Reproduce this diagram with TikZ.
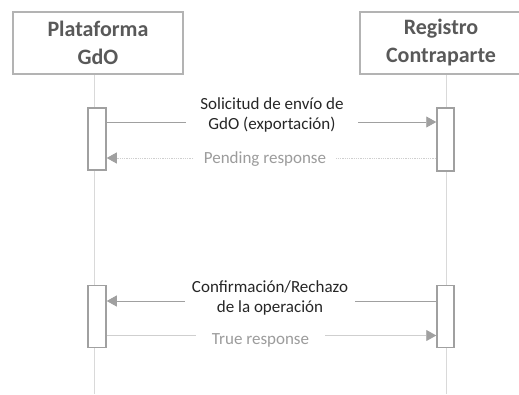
\documentclass[tikz,border=0pt]{standalone}
\usepackage{fontspec}
\setmainfont{Carlito}
\usetikzlibrary{arrows.meta}
\definecolor{headgray}{HTML}{595959}
\definecolor{boxgray}{HTML}{A0A0A0}
\definecolor{lifegray}{HTML}{D9D9D9}
\definecolor{callgray}{HTML}{A0A0A0}
\definecolor{replygray}{HTML}{9C9C9C}
\definecolor{replyline}{HTML}{CFCFCF}

\begin{document}
\begin{tikzpicture}[x=1pt, y=-1pt,
    every node/.style={font=\fontsize{17}{19.5}\selectfont},
    actor/.style={draw=boxgray!80, line width=1.5pt, minimum height=62pt, align=center,
        text=headgray, font=\fontsize{22}{28}\selectfont\bfseries},
    actbox/.style={draw=boxgray, line width=1.5pt, fill=white, minimum width=18pt,
        minimum height=62pt, inner sep=0pt},
    lifeline/.style={draw=lifegray, line width=0.9pt},
    call/.style={draw=callgray, line width=0.9pt, -{Triangle[length=10pt, width=11pt]}},
    reply/.style={draw=replyline, line width=0.9pt,
        -{Triangle[length=10pt, width=11pt, color=callgray]}},
    msg/.style={fill=white, align=center, text=black!85, inner ysep=1pt},
    answer/.style={fill=white, text=replygray, inner ysep=1pt}]
    \useasboundingbox (0,0) rectangle (519,394);

    % participants
    \node[actor, minimum width=170pt] (plat) at (98,43) {Plataforma\\GdO};
    \node[actor, minimum width=162pt] (reg) at (441,43) {Registro\\Contraparte};

    % lifelines
    \coordinate (platend) at (94,394);
    \coordinate (regend) at (446,394);
    \draw[lifeline] (plat.south -| platend) -- (platend);
    \draw[lifeline] (reg.south -| regend) -- (regend);

    % activations
    \node[actbox] (platact1) at (97,139) {};
    \node[actbox, minimum width=17pt, minimum height=63pt] (regact1) at (445.5,139.5) {};
    \node[actbox] (platact2) at (97,316.5) {};
    \node[actbox, minimum width=17pt] (regact2) at (445.5,316.5) {};

    % message rows
    \coordinate (row1) at (0,122);
    \coordinate (row2) at (0,158);
    \coordinate (row3) at (0,301);
    \coordinate (row4) at (0,335.5);

    % first exchange
    \draw[call] (platact1.east |- row1) -- (regact1.west |- row1);
    \draw[reply, dash pattern=on 1pt off 0.8pt] (regact1.west |- row2) -- (platact1.east |- row2);
    \node[msg, inner xsep=14pt] (sol) at (272,115) {Solicitud de envío de\\GdO (exportación)};
    \node[answer, inner xsep=10pt] (pend) at (265,159) {Pending response};

    % second exchange
    \draw[call] (regact2.west |- row3) -- (platact2.east |- row3);
    \draw[reply] (platact2.east |- row4) -- (regact2.west |- row4);
    \node[msg, inner xsep=7pt] (conf) at (270,298) {Confirmación/Rechazo\\de la operación};
    \node[answer, inner xsep=16pt] (true) at (260.5,340) {True response};
\end{tikzpicture}
\end{document}
